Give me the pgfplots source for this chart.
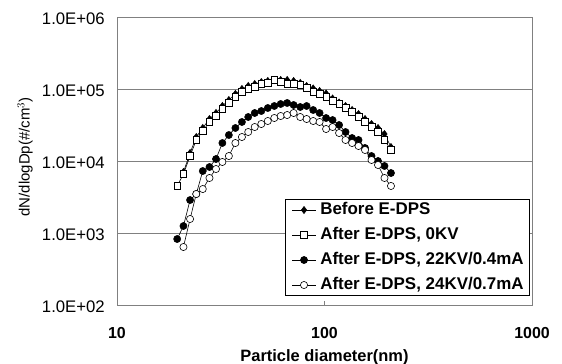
\documentclass[border=0pt]{standalone}
\usepackage{fontspec}
\setmainfont{Liberation Sans}
\usepackage{pgfplots}
\pgfplotsset{compat=1.18}
\definecolor{axgray}{RGB}{128,128,128}
\begin{document}
\begin{tikzpicture}
\begin{axis}[
  scale only axis, width=415bp, height=288bp,
  xmode=log, ymode=log,
  xmin=10, xmax=1000, ymin=100, ymax=1000000,
  xtick={10,100,1000}, xticklabels={10,100,1000},
  ytick={100,1000,10000,100000,1000000},
  yticklabels={1.0E+02,1.0E+03,1.0E+04,1.0E+05,1.0E+06},
  xminorticks=false, yminorticks=false,
  ymajorgrids, major grid style={axgray, line width=0.9bp},
  axis line style={axgray, line width=0.9bp},
  tick style={axgray, line width=0.9bp}, major tick length=4bp, tick align=inside,
  xtick pos=bottom, ytick pos=left,
  xticklabel style={font=\bfseries\fontsize{16}{18}\selectfont, inner sep=0pt, anchor=north, yshift=-22bp},
  yticklabel style={font=\fontsize{16.8}{18}\selectfont, inner sep=0pt, anchor=east, xshift=-12bp, yshift=-2bp},
  xlabel={Particle diameter(nm)},
  xlabel style={font=\bfseries\fontsize{16.5}{18}\selectfont, inner sep=0pt, at={(axis description cs:0.5,0)}, anchor=north, yshift=-44bp},
  ylabel={dN/dlogDp(\#/cm$^{3}$)},
  ylabel style={font=\fontsize{15}{18}\selectfont, inner sep=0pt, at={(axis description cs:0,0.5)}, anchor=south, yshift=84bp, xshift=4bp},
  legend style={at={(0.995,0.031)}, anchor=south east, draw=black, line width=0.6bp,
    font=\bfseries\fontsize{17}{18}\selectfont, inner xsep=6bp, inner ysep=3bp,
    row sep=9.5bp, column sep=4bp, cells={anchor=west},
    nodes={inner sep=0pt, text height=12.5bp, text depth=3bp}},
  legend image code/.code={\draw[mark repeat=2,mark phase=2,#1] plot coordinates {(0bp,0bp) (12bp,0bp) (24bp,0bp)};},
  every axis plot/.append style={black, line width=0.6bp},
]
\coordinate (sw) at (rel axis cs:0,0);
\coordinate (ne) at (rel axis cs:1,1);

\addplot[mark=diamond*, mark size=3.6bp, mark options={fill=black, line width=0.5bp}] coordinates {
(20.9,7030) (22.5,12920) (24.1,21540) (25.9,28730) (27.9,38310) (30.0,46420)
(32.2,58060) (34.6,70300) (37.2,85300) (40.0,100000) (42.9,110100) (46.1,117300)
(49.6,125000) (53.3,129200) (57.3,133400) (61.5,133400) (66.1,133400) (71.0,129200)
(76.4,121200) (82.0,110100) (88.2,101600) (94.7,93800) (101.8,86600) (109.4,73800)
(117.6,64940) (126.3,58060) (135.8,51070) (145.9,44940) (156.8,38310) (168.5,32630)
(181.1,28730) (194.6,23710) (209.1,15640)
};
\addlegendentry{Before E-DPS}

\addplot[mark=square*, mark size=3.3bp, mark options={fill=white, line width=0.6bp}] coordinates {
(19.5,4500) (20.9,6590) (22.5,11730) (24.1,19580) (25.9,26100) (27.9,34830)
(30.0,42170) (32.2,52750) (34.6,63900) (37.2,77430) (40.0,90800) (42.9,100000)
(46.1,106600) (49.6,117300) (53.3,121200) (57.3,133400) (61.5,125000) (66.1,117300)
(71.0,117300) (76.4,113700) (82.0,103300) (88.2,90800) (94.7,85300) (101.8,77430)
(109.4,68100) (117.6,61900) (126.3,54450) (135.8,47950) (145.9,40840) (156.8,34830)
(168.5,29650) (181.1,25290) (194.6,19580) (209.1,14220)
};
\addlegendentry{After E-DPS, 0KV}

\addplot[mark=*, mark size=3.6bp, mark options={fill=black, line width=0.5bp}] coordinates {
(19.5,825) (20.9,1250) (22.5,2870) (24.1,3480) (25.9,7260) (27.9,8250)
(30.0,10660) (32.2,17780) (34.6,22960) (37.2,28730) (40.0,34830) (42.9,40840)
(46.1,46420) (49.6,49450) (53.3,54450) (57.3,58060) (61.5,61900) (66.1,63900)
(71.0,59950) (76.4,56230) (82.0,58060) (88.2,51070) (94.7,46420) (101.8,39560)
(109.4,37060) (117.6,31620) (126.3,25290) (135.8,20850) (145.9,19580) (156.8,15170)
(168.5,11730) (181.1,10000) (194.6,8530) (209.1,6810)
};
\addlegendentry{After E-DPS, 22KV/0.4mA}

\addplot[mark=*, mark size=3.6bp, mark options={fill=white, line width=0.6bp}] coordinates {
(20.9,639) (22.5,1565) (24.1,3480) (25.9,4080) (27.9,5810) (30.0,7740)
(32.2,9690) (34.6,11730) (37.2,17780) (40.0,21540) (42.9,25290) (46.1,29650)
(49.6,32630) (53.3,35940) (57.3,39560) (61.5,42170) (66.1,43520) (71.0,46420)
(76.4,40840) (82.0,38310) (88.2,35940) (94.7,34830) (101.8,27830) (109.4,29650)
(117.6,24480) (126.3,19580) (135.8,17780) (145.9,16150) (156.8,14220) (168.5,10330)
(181.1,8800) (194.6,5810) (209.1,4500)
};
\addlegendentry{After E-DPS, 24KV/0.7mA}
\end{axis}
\pgfresetboundingbox
\path ([shift={(-117bp,-59bp)}]sw) rectangle ([shift={(30bp,17bp)}]ne);
\end{tikzpicture}
\end{document}
